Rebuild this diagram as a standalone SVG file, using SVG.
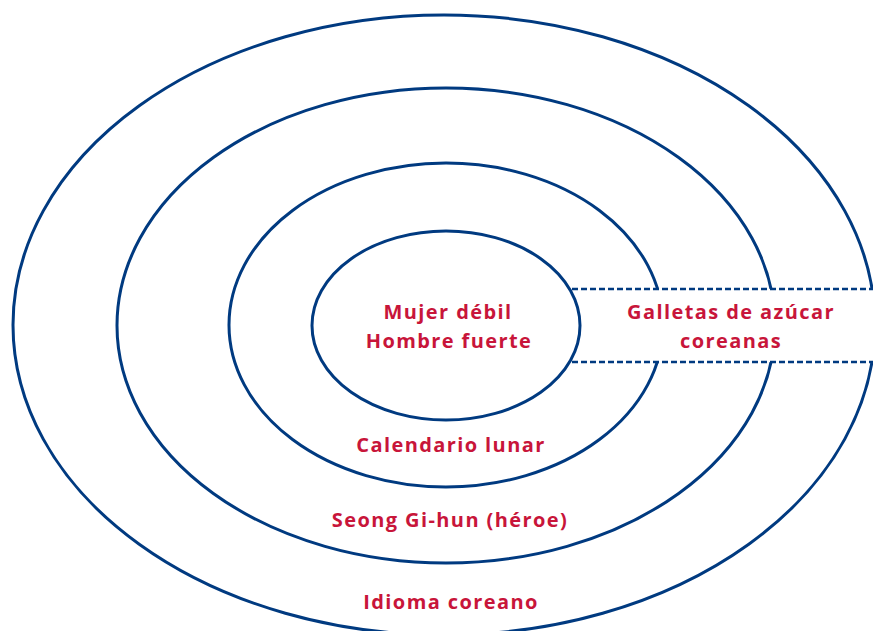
<svg xmlns="http://www.w3.org/2000/svg" width="873" height="631" viewBox="0 0 873 631">
<style>
.ring{fill:none;stroke:#003A80;stroke-width:3}
.lbl{font-family:"Open Sans","Liberation Sans",sans-serif;font-weight:700;font-size:20px;fill:#C8153A;text-anchor:middle;letter-spacing:1.4px}
.dash{stroke:#003A80;stroke-width:2.5;stroke-dasharray:6 3;fill:none}
</style>
<rect x="0" y="0" width="873" height="631" fill="#ffffff"/>
<g id="ring-idioma">
<ellipse class="ring" cx="444" cy="325" rx="431" ry="310"/>
<text class="lbl" x="451" y="609">Idioma coreano</text>
</g>
<g id="ring-seong">
<ellipse class="ring" cx="446" cy="325.5" rx="329" ry="237.5"/>
<text class="lbl" x="450" y="527">Seong Gi-hun (héroe)</text>
</g>
<g id="ring-calendario">
<ellipse class="ring" cx="446" cy="325" rx="217" ry="162"/>
<text class="lbl" x="451" y="452">Calendario lunar</text>
</g>
<rect x="572" y="289" width="301" height="73" fill="#ffffff"/>
<g id="core">
<ellipse class="ring" cx="446" cy="325.5" rx="134" ry="94.5"/>
<text class="lbl" x="448" y="319">Mujer débil</text>
<text class="lbl" x="449" y="348">Hombre fuerte</text>
</g>
<g id="connectors">
<line class="dash" x1="572" y1="289" x2="873" y2="289"/>
<line class="dash" x1="572" y1="362" x2="873" y2="362"/>
</g>
<g id="galletas">
<text class="lbl" x="731" y="319">Galletas de azúcar</text>
<text class="lbl" x="731" y="348">coreanas</text>
</g>
</svg>
